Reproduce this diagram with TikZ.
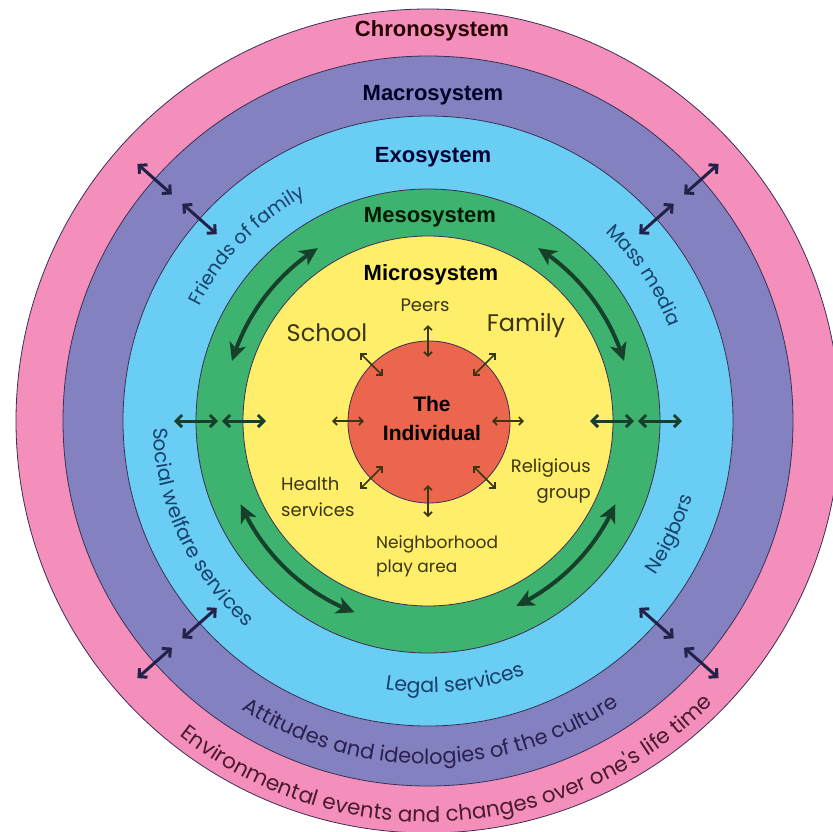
\documentclass[tikz,border=0pt]{standalone}
\usepackage{fontspec}
\usetikzlibrary{arrows.meta,decorations.text,bending}
\newfontfamily\hdfont{Liberation Sans}
\newfontfamily\futfont{Poppins}
\definecolor{pinkc}{HTML}{F48FBB}
\definecolor{purc}{HTML}{8381BF}
\definecolor{bluec}{HTML}{6ACDF3}
\definecolor{greenc}{HTML}{3DB36F}
\definecolor{yelc}{HTML}{FFEE6A}
\definecolor{redc}{HTML}{EC654D}
\definecolor{ringline}{HTML}{3A2F55}
\definecolor{navyarrow}{HTML}{232147}
\definecolor{greenarrow}{HTML}{17402A}
\definecolor{olivetxt}{HTML}{3B3612}
\definecolor{bluetxt}{HTML}{17406E}
\definecolor{purtxt}{HTML}{2A2050}
\definecolor{pinktxt}{HTML}{4A1A30}
\tikzset{
  ring/.style={circle, draw=ringline, line width=0.8pt, inner sep=0pt, outer sep=0pt, minimum size=#1},
  heading/.style={font=\hdfont\bfseries\fontsize{22}{24}\selectfont},
  innerlbl/.style={font=\futfont\fontsize{18}{26}\selectfont, text=olivetxt, inner sep=0pt},
  biglbl/.style={font=\futfont\fontsize{24}{26}\selectfont, text=olivetxt, inner sep=0pt},
  outarrow/.style={draw=navyarrow, line width=3pt, {Straight Barb[length=6pt,width=12pt]}-{Straight Barb[length=6pt,width=12pt]}},
  grnarrow/.style={draw=greenarrow, line width=3pt, {Straight Barb[length=6pt,width=12pt]}-{Straight Barb[length=6pt,width=12pt]}},
  innerarrow/.style={draw=olivetxt, line width=1.6pt, {Straight Barb[length=4pt,width=8pt]}-{Straight Barb[length=4pt,width=8pt]}},
  bigarc/.style={draw=greenarrow, line width=4pt, {Stealth[length=18pt,width=17pt,inset=5pt]}-{Stealth[length=18pt,width=17pt,inset=5pt]}},
  arctext/.style n args={3}{decorate, decoration={text along path, text align=center, text={|\futfont\fontsize{#1}{#1}\selectfont\color{#2}|#3}}},
}
\begin{document}
\begin{tikzpicture}[x=1pt,y=1pt]
\useasboundingbox (-428,-410) rectangle (405,421);
\begin{scope}
  \clip (-428,-410) rectangle (405,421);
  \node[ring=824pt, fill=pinkc] (chrono) at (0,0) {};
\end{scope}
\node[ring=730pt, fill=purc] (macro) at (0,0) {};
\node[ring=610pt, fill=bluec] (exo) at (0,0) {};
\node[ring=464pt, fill=greenc] (meso) at (0,0) {};
\node[ring=370pt, fill=yelc] (micro) at (0,0) {};
\node[ring=162pt, fill=redc] (indiv) at (1,-1) {};

% headings
\node[heading, text=black!85!red] (chronolbl) at (4,390) {Chronosystem};
\node[heading, text=black!85!blue] (macrolbl) at (5,326) {Macrosystem};
\node[heading, text=black!80!blue] (exolbl) at (5,264) {Exosystem};
\node[heading, text=black!90!green] (mesolbl) at (2,204) {Mesosystem};
\node[heading, text=black] (microlbl) at (3,146) {Microsystem};
\node[heading, text=black, align=center, font=\hdfont\bfseries\fontsize{21}{29}\selectfont] (indivlbl) at (4,3) {The\\Individual};

% microsystem labels
\node[biglbl] (school) at (-101,88) {School};
\node[innerlbl] (peers) at (-3,116) {Peers};
\node[biglbl] (family) at (98,96) {Family};
\node[innerlbl, align=left, anchor=west] (health) at (-147,-76) {Health\\services};
\node[innerlbl, align=right, anchor=east] (relig) at (163,-60) {Religious\\group};
\node[innerlbl, align=left, anchor=west, font=\futfont\fontsize{17}{24}\selectfont] (neigh) at (-52,-135) {Neighborhood\\play area};

% curved texts
\path[arctext={19}{bluetxt}{Friends of family}] (180:256pt) arc[start angle=180, end angle=92, radius=256pt];
\path[arctext={19}{bluetxt}{Mass media}] (80:259pt) arc[start angle=80, end angle=-12, radius=259pt];
\path[arctext={20}{bluetxt}{Social welfare services}] (150:275pt) arc[start angle=150, end angle=260, radius=275pt];
\path[arctext={19.5}{bluetxt}{Neigbors}] (-70:275pt) arc[start angle=-70, end angle=20, radius=275pt];
\path[arctext={20.5}{bluetxt}{Legal services}] (-130:272pt) arc[start angle=-130, end angle=-38, radius=272pt];
\path[arctext={21}{purtxt}{Attitudes and ideologies of the culture}] (-155:343pt) arc[start angle=-155, end angle=-24, radius=343pt];
\path[arctext={21.5}{pinktxt}{Environmental events and changes over one's life time}] (-160:401pt) arc[start angle=-160, end angle=-13, radius=401pt];

% outer radial arrows
\foreach \ang [count=\i] in {41.5,138.5,221.5,318.5} {
  \coordinate (pa\i) at (\ang:342pt);
  \coordinate (pb\i) at (\ang:388pt);
  \draw[outarrow] (pa\i) -- (pb\i);
  \coordinate (qa\i) at (\ang:282pt);
  \coordinate (qb\i) at (\ang:328pt);
  \draw[outarrow] (qa\i) -- (qb\i);
}
% green horizontal arrows
\foreach \ang [count=\i] in {0,180} {
  \coordinate (ga\i) at (\ang:162pt);
  \coordinate (gb\i) at (\ang:206pt);
  \coordinate (gc\i) at (\ang:210pt);
  \coordinate (gd\i) at (\ang:254pt);
  \draw[grnarrow] (ga\i) -- (gb\i);
  \draw[grnarrow] (gc\i) -- (gd\i);
}
% inner arrows
\foreach \ang [count=\i] in {0,45,...,315} {
  \coordinate (ia\i) at (\ang:64pt);
  \coordinate (ib\i) at (\ang:96pt);
  \draw[innerarrow] (ia\i) -- (ib\i);
}
% curved arrows in mesosystem
\coordinate (ca1) at (122.5:205pt);
\draw[bigarc] (ca1) arc[start angle=122.5, end angle=163, radius=205pt];
\coordinate (ca2) at (57.5:205pt);
\draw[bigarc] (ca2) arc[start angle=57.5, end angle=17, radius=205pt];
\coordinate (ca3) at (204:205pt);
\draw[bigarc] (ca3) arc[start angle=204, end angle=249, radius=205pt];
\coordinate (ca4) at (295.5:205pt);
\draw[bigarc] (ca4) arc[start angle=295.5, end angle=336, radius=205pt];
\end{tikzpicture}
\end{document}
